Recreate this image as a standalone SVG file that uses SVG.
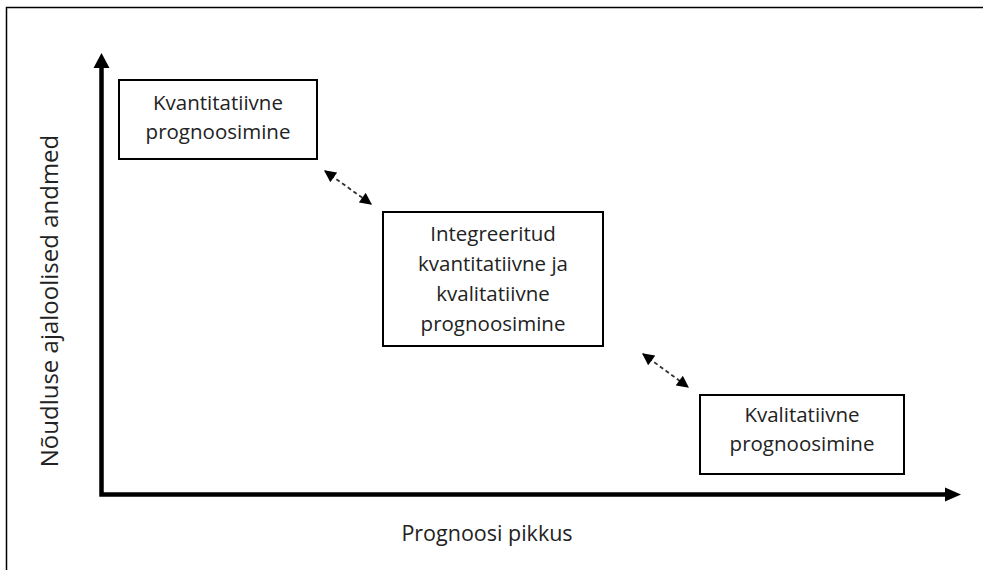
<svg xmlns="http://www.w3.org/2000/svg" width="983" height="570" viewBox="0 0 983 570">
  <style>
    .box { fill: #ffffff; stroke: #000000; stroke-width: 2; }
    .lbl { font-family: "Open Sans", "Noto Sans", "Liberation Sans", sans-serif; font-size: 20.5px; fill: #222222; text-anchor: middle; }
    .axis { stroke: #000000; stroke-width: 4.5; fill: none; }
    .link { stroke: #333333; stroke-width: 1.8; stroke-dasharray: 4 3; fill: none; }
  </style>
  <defs>
    <marker id="linkHead" viewBox="0 0 10 10" refX="9" refY="5" markerUnits="userSpaceOnUse" markerWidth="13" markerHeight="12" orient="auto-start-reverse">
      <path d="M0,0 L10,5 L0,10 Z" fill="#000000"/>
    </marker>
  </defs>

  <rect width="983" height="570" fill="#ffffff"/>
  <!-- outer frame -->
  <rect x="6.5" y="7.5" width="990" height="580" fill="none" stroke="#000000" stroke-width="1.5"/>

  <!-- axes -->
  <g id="axes">
    <polyline class="axis" points="101.5,66 101.5,494.5 948,494.5"/>
    <path d="M101.5,53 L109.5,68 L93.5,68 Z" fill="#000000"/>
    <path d="M961,494.5 L945,487.5 L945,501.5 Z" fill="#000000"/>
  </g>

  <!-- nodes -->
  <g id="quantitative">
    <rect class="box" x="119" y="80" width="198" height="79"/>
    <text class="lbl" x="218" y="110">Kvantitatiivne</text>
    <text class="lbl" x="218" y="139">prognoosimine</text>
  </g>

  <g id="integrated">
    <rect class="box" x="383" y="212" width="220" height="134"/>
    <text class="lbl" x="493" y="241">Integreeritud</text>
    <text class="lbl" x="493" y="271">kvantitatiivne ja</text>
    <text class="lbl" x="493" y="301">kvalitatiivne</text>
    <text class="lbl" x="493" y="331">prognoosimine</text>
  </g>

  <g id="qualitative">
    <rect class="box" x="700" y="395" width="204" height="79"/>
    <text class="lbl" x="802" y="422">Kvalitatiivne</text>
    <text class="lbl" x="802" y="451">prognoosimine</text>
  </g>

  <!-- connectors -->
  <g id="connectors">
    <line class="link" x1="325" y1="171" x2="371" y2="204" marker-start="url(#linkHead)" marker-end="url(#linkHead)"/>
    <line class="link" x1="643" y1="354" x2="688" y2="387" marker-start="url(#linkHead)" marker-end="url(#linkHead)"/>
  </g>

  <!-- axis titles -->
  <text class="lbl" x="487" y="541" style="font-size:21.5px">Prognoosi pikkus</text>
  <text class="lbl" transform="translate(58,301) rotate(-90)" style="font-size:24px">Nõudluse ajaloolised andmed</text>
</svg>
